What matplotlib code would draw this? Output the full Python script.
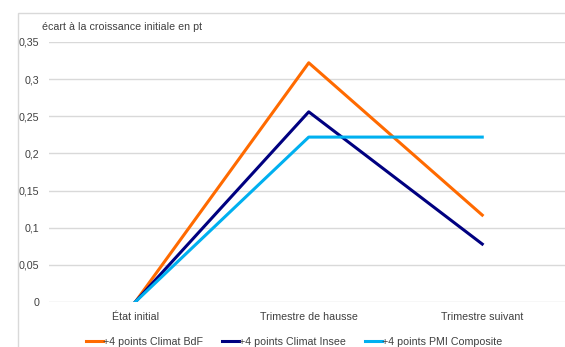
import matplotlib.pyplot as plt
from matplotlib.patches import Rectangle

# données : écart à la croissance initiale (en point)
etapes = ["État initial", "Trimestre de hausse", "Trimestre suivant"]
climat_bdf = [0.0, 0.322, 0.117]
climat_insee = [0.0, 0.256, 0.078]
pmi_composite = [0.0, 0.222, 0.222]
graduations = [0, 0.05, 0.1, 0.15, 0.2, 0.25, 0.3, 0.35]
etiquettes_y = ["0", "0,05", "0,1", "0,15", "0,2", "0,25", "0,3", "0,35"]

plt.rcParams['font.family'] = ['Liberation Sans', 'DejaVu Sans']
W, H = 565, 347
fig = plt.figure(figsize=(W / 100, H / 100), dpi=100)

# cadre gris du graphique
fig.patches.append(Rectangle((18 / W, -0.1), 1.0, 1.1 - 13 / H, transform=fig.transFigure,
                             fill=False, edgecolor="#d9d9d9", linewidth=1))

ax = fig.add_axes([48.5 / W, 1 - 302 / H, (569 - 48.5) / W, (302 - 42) / H])
x = range(len(etapes))
ax.plot(x, climat_bdf, color="#ff6a00", lw=2.2, label="+4 points Climat BdF")
ax.plot(x, climat_insee, color="#000080", lw=2.2, label="+4 points Climat Insee")
ax.plot(x, pmi_composite, color="#00b0f0", lw=2.2, label="+4 points PMI Composite")

ax.set_xlim(-0.5, 2.5)
ax.set_ylim(0, 0.35)
ax.set_yticks(graduations)
ax.set_yticklabels(etiquettes_y)
ax.set_xticks(list(x))
ax.set_xticklabels(etapes)
ax.grid(axis="y", color="#d9d9d9", lw=1)
ax.set_axisbelow(True)
for s in ax.spines.values():
    s.set_visible(False)
ax.tick_params(length=0, labelsize=7.7, colors="#404040")
ax.tick_params(axis="y", pad=6.5)
ax.tick_params(axis="x", pad=7)

fig.text(42 / W, 1 - 27 / H, "écart à la croissance initiale en pt", fontsize=7.7,
         color="#404040", va="center", ha="left")

fig.legend(loc="center", bbox_to_anchor=(294 / W, 1 - 342 / H), ncol=3, frameon=False,
           fontsize=7.7, handlelength=1.6, handletextpad=0.0, columnspacing=1.8,
           labelcolor="#404040")

fig.savefig("out.png", dpi=100)
